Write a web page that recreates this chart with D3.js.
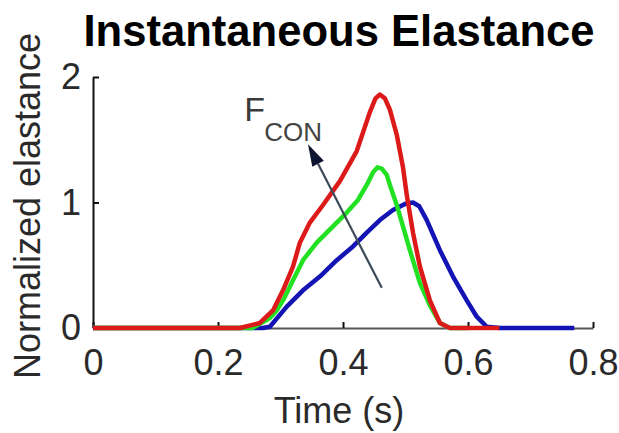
<!DOCTYPE html>
<html>
<head>
<meta charset="utf-8">
<script src="https://cdn.jsdelivr.net/npm/d3@7/dist/d3.min.js"></script>
<style>
  html, body { margin: 0; padding: 0; background: #fff; }
  svg { display: block; font-family: "Liberation Sans", Arial, sans-serif; }
</style>
</head>
<body>
<svg id="chart" width="619" height="433"></svg>
<script>
// ---- data ----
const titleText = "Instantaneous Elastance";
const xLabel = "Time (s)";
const yLabel = "Normalized elastance";
const xTicks = [0, 0.2, 0.4, 0.6, 0.8];
const yTicks = [0, 1, 2];

const redT   = [0, 0.235, 0.267, 0.288, 0.304, 0.320, 0.331, 0.347, 0.368, 0.395, 0.422, 0.443, 0.452, 0.459, 0.467, 0.475, 0.486, 0.496, 0.502, 0.512, 0.523, 0.539, 0.555, 0.571, 0.65];
const redV   = [0, 0, 0.04, 0.14, 0.30, 0.49, 0.68, 0.84, 0.98, 1.17, 1.41, 1.72, 1.83, 1.86, 1.83, 1.74, 1.54, 1.28, 1.06, 0.76, 0.49, 0.22, 0.04, 0, 0];

const greenT = [0, 0.255, 0.283, 0.294, 0.304, 0.320, 0.336, 0.358, 0.384, 0.406, 0.424, 0.438, 0.448, 0.455, 0.462, 0.470, 0.475, 0.486, 0.496, 0.507, 0.523, 0.539, 0.555, 0.571, 0.6];
const greenV = [0, 0, 0.08, 0.14, 0.22, 0.38, 0.54, 0.68, 0.81, 0.92, 1.02, 1.14, 1.24, 1.28, 1.27, 1.22, 1.14, 0.98, 0.81, 0.62, 0.36, 0.18, 0.04, 0, 0];

const blueT  = [0, 0.272, 0.283, 0.310, 0.336, 0.363, 0.390, 0.416, 0.438, 0.459, 0.480, 0.500, 0.512, 0.522, 0.534, 0.555, 0.576, 0.598, 0.614, 0.630, 0.651, 0.77];
const blueV  = [0, 0, 0.01, 0.17, 0.30, 0.41, 0.54, 0.65, 0.76, 0.86, 0.94, 0.99, 1.00, 0.97, 0.86, 0.62, 0.41, 0.22, 0.09, 0.01, 0, 0];

// annotation (data units)
const arrowTail = [0.462, 0.32];
const arrowTip  = [0.344, 1.464];
const annotMain = "F";
const annotSub  = "CON";
const annotPos  = [0.242, 1.65];
const annotSubPos = [0.274, 1.49];

// ---- layout ----
const svg = d3.select("#chart");
const x = d3.scaleLinear().domain([0, 0.8]).range([93, 593]);
const y = d3.scaleLinear().domain([0, 2]).range([328, 77]);

// title
svg.append("text")
  .attr("x", 339).attr("y", 46)
  .attr("text-anchor", "middle")
  .attr("font-size", 44).attr("font-weight", "bold")
  .attr("textLength", 511).attr("lengthAdjust", "spacingAndGlyphs")
  .attr("fill", "#000")
  .text(titleText);

// axes
const xAxis = d3.axisBottom(x).tickValues(xTicks)
  .tickSizeInner(-6).tickSizeOuter(0).tickPadding(21)
  .tickFormat(d => d === 0 ? "0" : d3.format(".1f")(d));
const gx = svg.append("g").attr("transform", "translate(0,328)").call(xAxis);
gx.select(".domain").attr("stroke", "#555").attr("stroke-width", 2);
gx.selectAll(".tick line").attr("stroke", "#111").attr("stroke-width", 2);
gx.selectAll(".tick text").attr("font-size", 36).attr("fill", "#2a2a2a")
  .attr("font-family", "Liberation Sans, Arial, sans-serif");

const yAxis = d3.axisLeft(y).tickValues(yTicks)
  .tickSizeInner(-6).tickSizeOuter(0).tickPadding(12)
  .tickFormat(d3.format("d"));
const gy = svg.append("g").attr("transform", "translate(93,0)").call(yAxis);
gy.select(".domain").attr("stroke", "#111").attr("stroke-width", 2);
gy.selectAll(".tick line").attr("stroke", "#111").attr("stroke-width", 2);
gy.selectAll(".tick text").attr("font-size", 36).attr("fill", "#2a2a2a")
  .attr("font-family", "Liberation Sans, Arial, sans-serif");

// axis labels
svg.append("text")
  .attr("x", 339).attr("y", 423)
  .attr("text-anchor", "middle")
  .attr("font-size", 36).attr("fill", "#2a2a2a")
  .text(xLabel);
svg.append("text")
  .attr("transform", "translate(40,206) rotate(-90)")
  .attr("text-anchor", "middle")
  .attr("font-size", 36).attr("fill", "#2a2a2a")
  .text(yLabel);

// curves
const line = d3.line()
  .x(d => x(d[0])).y(d => y(d[1]))
  .curve(d3.curveLinear);
const series = [
  { t: blueT,  v: blueV,  color: "#1414b4" },
  { t: greenT, v: greenV, color: "#22e022" },
  { t: redT,   v: redV,   color: "#dc1a1a" }
];
series.forEach(s => {
  const pts = s.t.map((t, i) => [t, s.v[i]]);
  svg.append("path")
    .attr("d", line(pts))
    .attr("fill", "none")
    .attr("stroke", s.color)
    .attr("stroke-width", 4.5)
    .attr("stroke-linejoin", "round")
    .attr("stroke-linecap", "butt");
});

// arrow annotation
const x1 = x(arrowTail[0]), y1 = y(arrowTail[1]);
const x2 = x(arrowTip[0]),  y2 = y(arrowTip[1]);
const ang = Math.atan2(y2 - y1, x2 - x1);
const headLen = 22, headHalf = 6.5;
const bx = x2 - headLen * Math.cos(ang), by = y2 - headLen * Math.sin(ang);
svg.append("line")
  .attr("x1", x1).attr("y1", y1).attr("x2", bx).attr("y2", by)
  .attr("stroke", "#3c4a58").attr("stroke-width", 2.2);
const px = -Math.sin(ang), py = Math.cos(ang);
svg.append("path")
  .attr("d", `M${x2},${y2} L${bx + px * headHalf},${by + py * headHalf} L${bx - px * headHalf},${by - py * headHalf} Z`)
  .attr("fill", "#0f1430");

svg.append("text")
  .attr("x", x(annotPos[0])).attr("y", y(annotPos[1]))
  .attr("font-size", 34).attr("fill", "#3a3a3a")
  .text(annotMain);
svg.append("text")
  .attr("x", x(annotSubPos[0])).attr("y", y(annotSubPos[1]))
  .attr("font-size", 26).attr("fill", "#444")
  .text(annotSub);
</script>
</body>
</html>
